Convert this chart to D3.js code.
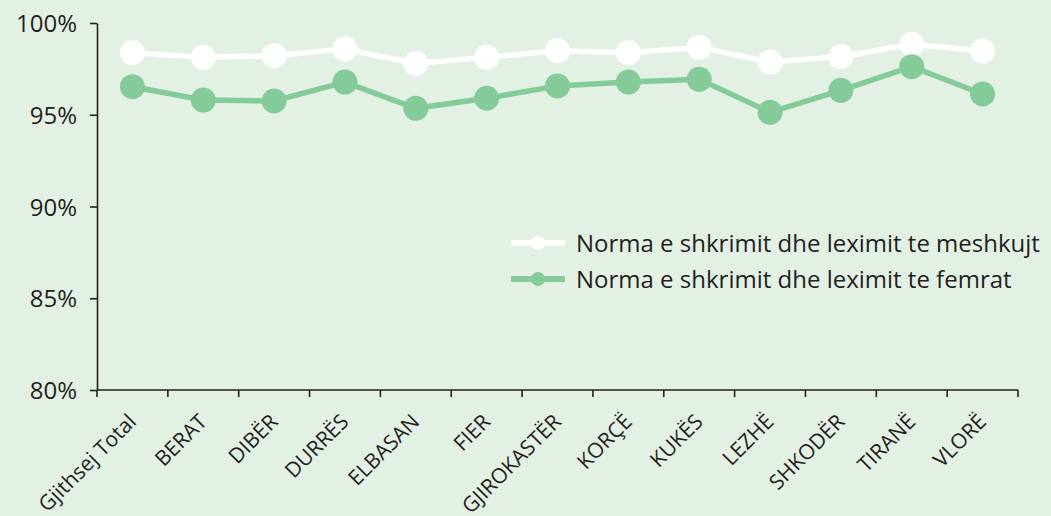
<!DOCTYPE html>
<html>
<head>
<meta charset="utf-8">
<script src="https://cdn.jsdelivr.net/npm/d3@7"></script>
<style>
  html, body { margin: 0; padding: 0; background: #e3f1e5; }
  svg { display: block; }
  text { font-family: "Open Sans", "Noto Sans", sans-serif; fill: #231f20; }
</style>
</head>
<body>
<svg id="chart" width="1051" height="516"></svg>
<script>
const categories = ["Gjithsej Total", "BERAT", "DIBËR", "DURRËS", "ELBASAN", "FIER", "GJIROKASTËR", "KORÇË", "KUKËS", "LEZHË", "SHKODËR", "TIRANË", "VLORË"];
const maleValues = [98.38, 98.13, 98.22, 98.58, 97.8, 98.13, 98.49, 98.38, 98.67, 97.87, 98.16, 98.84, 98.47];
const femaleValues = [96.53, 95.8, 95.75, 96.78, 95.35, 95.9, 96.57, 96.78, 96.93, 95.13, 96.33, 97.62, 96.13];
const yTicks = [80, 85, 90, 95, 100];
const seriesNames = ["Norma e shkrimit dhe leximit te meshkujt", "Norma e shkrimit dhe leximit te femrat"];
const seriesColors = ["#ffffff", "#84cb99"];

const svg = d3.select("#chart");
svg.append("rect").attr("width", 1051).attr("height", 516).attr("fill", "#e3f1e5");

const mLeft = 97, mRight = 1018, mTop = 23, mBottom = 390;
const x = d3.scaleBand().domain(categories).range([mLeft, mRight]).padding(0);
const y = d3.scaleLinear().domain([80, 100]).range([mBottom, mTop]);
const ink = "#231f20";

// Y axis
const yAxis = svg.append("g").attr("transform", `translate(${mLeft},0)`)
  .call(d3.axisLeft(y).tickValues(yTicks).tickSize(7).tickSizeOuter(0).tickFormat(d => d + "%"));
yAxis.attr("font-size", null).attr("font-family", null);
yAxis.select(".domain").attr("stroke", ink).attr("stroke-width", 1.6);
yAxis.selectAll(".tick line").attr("stroke", ink).attr("stroke-width", 1.6);
yAxis.selectAll(".tick text").attr("x", -20).attr("dy", "0.36em")
  .style("font-size", "24px").style("fill", ink);

// X axis with ticks at band boundaries
const xg = svg.append("g").attr("transform", `translate(0,${mBottom})`);
xg.append("line").attr("x1", mLeft).attr("x2", mRight).attr("y1", 0).attr("y2", 0)
  .attr("stroke", ink).attr("stroke-width", 1.6);
const bounds = categories.map(c => x(c)).concat([x(categories[categories.length - 1]) + x.bandwidth()]);
xg.selectAll("line.tk").data(bounds).join("line").attr("class", "tk")
  .attr("x1", d => d).attr("x2", d => d).attr("y1", 0).attr("y2", 7)
  .attr("stroke", ink).attr("stroke-width", 1.6);
xg.selectAll("text.lbl").data(categories).join("text").attr("class", "lbl")
  .attr("transform", d => `translate(${x(d) + x.bandwidth() / 2 + 5},${33}) rotate(-45)`)
  .attr("text-anchor", "end")
  .style("font-size", "21px")
  .text(d => d);

// Lines
const series = [maleValues, femaleValues];
const line = d3.line().x((d, i) => x(categories[i]) + x.bandwidth() / 2).y(d => y(d));
series.forEach((vals, si) => {
  svg.append("path").datum(vals).attr("d", line).attr("fill", "none")
    .attr("stroke", seriesColors[si]).attr("stroke-width", 5.5);
  svg.selectAll(null).data(vals).join("circle")
    .attr("cx", (d, i) => x(categories[i]) + x.bandwidth() / 2)
    .attr("cy", d => y(d)).attr("r", 12.5).attr("fill", seriesColors[si]);
});

// Legend
const lg = svg.append("g");
seriesNames.forEach((name, i) => {
  const yy = 243 + i * 36;
  lg.append("line").attr("x1", 511).attr("x2", 565).attr("y1", yy).attr("y2", yy)
    .attr("stroke", seriesColors[i]).attr("stroke-width", 6);
  lg.append("circle").attr("cx", 538).attr("cy", yy).attr("r", 7).attr("fill", seriesColors[i]);
  lg.append("text").attr("x", 576).attr("y", yy).attr("dy", "0.36em").style("font-size", "24px").text(name);
});
</script>
</body>
</html>
